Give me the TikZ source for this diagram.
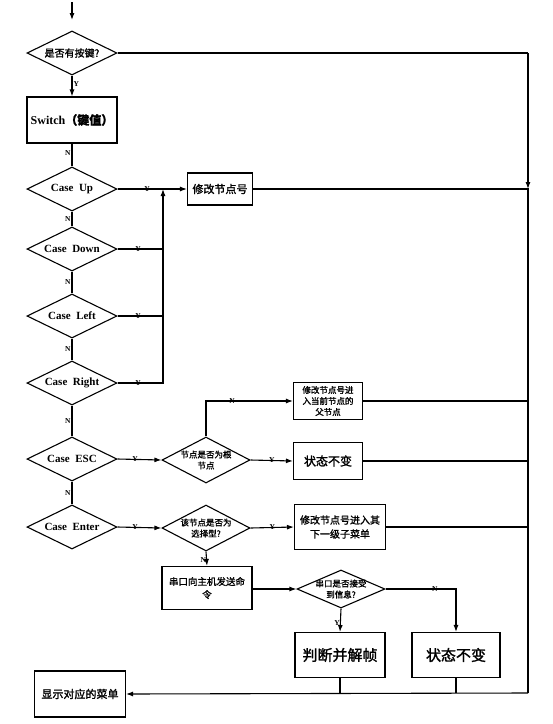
\documentclass[tikz,border=0pt]{standalone}
\usepackage{fontspec}
\setmainfont{Liberation Serif}
\newfontfamily\cjk[FakeBold=1.5]{Noto Sans CJK SC}
\usetikzlibrary{shapes.geometric,arrows.meta}
\begin{document}
\begin{tikzpicture}[x=1pt,y=-1pt,line width=1.1pt,
  dia/.style={draw,diamond,inner sep=0pt,minimum width=90pt,minimum height=44pt},
  box/.style={draw,rectangle,inner sep=0pt,align=center},
  txt/.style={inner sep=0pt,align=center,font=\bfseries\fontsize{11}{12}\selectfont},
  stxt/.style={inner sep=0pt,align=center,font=\cjk\fontsize{8.5}{11}\selectfont},
  lab/.style={inner sep=1pt,font=\fontsize{7.5}{8}\selectfont\bfseries},
  arr/.style={-{Latex[length=7pt,width=5pt]}}]
\useasboundingbox (0,0) rectangle (553,724);
% top
\coordinate (start) at (72,2);
\coordinate (startend) at (72,20);
\node[dia] (d0) at (72,53) {};
\node[txt,font=\cjk\fontsize{10}{12}\selectfont] at (d0) {是否有按键?};
\node[box,minimum width=90pt,minimum height=46pt,font=\bfseries\fontsize{12}{14}\selectfont] (sw) at (72,120) {Switch\cjk（键值）};
\node[dia] (cu) at (72,189) {};
\node[txt] at (cu) {Case\ \ Up};
\node[dia] (cd) at (72,249) {};
\node[txt] at (cd) {Case\ \ Down};
\node[dia] (cl) at (72,316) {};
\node[txt] at (cl) {Case\ \ Left};
\node[dia] (cr) at (72,383) {};
\node[txt] at (cr) {Case\ \ Right};
\node[dia] (ce) at (72,459) {};
\node[txt] at (ce) {Case\ \ ESC};
\node[dia] (cn) at (72,527) {};
\node[txt] at (cn) {Case\ \ Enter};
% modify box
\node[box,minimum width=65pt,minimum height=32pt,font=\cjk\fontsize{11}{12}\selectfont] (mod) at (220,189) {修改节点号};
\coordinate (col) at (163,189);
% ESC branch
\node[dia,minimum width=88pt,minimum height=46pt] (root) at (206,460) {};
\node[stxt] at (root) {节点是否为根\\节点};
\node[box,minimum width=69pt,minimum height=37pt,font=\cjk\fontsize{8.5}{11}\selectfont] (par) at (328,401) {修改节点号进\\入当前节点的\\父节点};
\node[box,minimum width=69pt,minimum height=37pt,font=\cjk\fontsize{12}{14}\selectfont] (keep1) at (328,461) {状态不变};
% Enter branch
\node[dia,minimum width=88pt,minimum height=46pt] (sel) at (206,528) {};
\node[stxt] at (sel) {该节点是否为\\选择型?};
\node[box,minimum width=91pt,minimum height=45pt,font=\cjk\fontsize{10}{14}\selectfont] (sub) at (340,527) {修改节点号进入其\\下一级子菜单};
\node[box,minimum width=90pt,minimum height=43pt,font=\cjk\fontsize{9.5}{13}\selectfont] (ser) at (207,588) {串口向主机发送命\\令};
\node[dia,minimum width=88pt,minimum height=38pt] (rcv) at (341,589) {};
\node[stxt] at (rcv) {串口是否接受\\到信息?};
\node[box,minimum width=90pt,minimum height=45pt,font=\cjk\fontsize{15}{16}\selectfont] (dec) at (340,655) {判断并解帧};
\node[box,minimum width=88pt,minimum height=45pt,font=\cjk\fontsize{15}{16}\selectfont] (keep2) at (456,655) {状态不变};
\node[box,minimum width=91pt,minimum height=46pt,font=\cjk\fontsize{11}{12}\selectfont] (show) at (80,694) {显示对应的菜单};
% right bus
\coordinate (rt) at (528,53);
\coordinate (rj) at (528,189);
\coordinate (rb) at (528,693);
% connectors
\draw[arr] (start) -- (startend);
\draw[arr] (d0.south) -- node[lab,right,pos=0.4]{Y} (sw.north);
\draw (sw.south) -- node[lab,left,pos=0.4]{N} (cu.north);
\draw (cu.south) -- node[lab,left]{N} (cd.north);
\draw (cd.south) -- node[lab,left]{N} (cl.north);
\draw (cl.south) -- node[lab,left]{N} (cr.north);
\draw (cr.south) -- node[lab,left]{N} (ce.north);
\draw (ce.south) -- node[lab,left]{N} (cn.north);
\draw (cu.east) -- node[lab,pos=0.65]{Y} (col) ;
\draw[arr] (col) -- (mod.west);
\draw (cd.east) -- node[lab,pos=0.45]{Y} (cd.east -| col);
\draw (cl.east) -- node[lab,pos=0.45]{Y} (cl.east -| col);
\draw[arr] (cr.east) -- node[lab,pos=0.45]{Y} (cr.east -| col) -- (col);
\draw[arr] (ce.east) -- node[lab,pos=0.4]{Y} (root.west);
\draw[arr] (cn.east) -- node[lab,pos=0.4]{Y} (sel.west);
\draw[arr] (root.north) |- node[lab,pos=0.65]{N} (par.west);
\draw[arr] (root.east) -- node[lab]{Y} (keep1.west);
\draw[arr] (sel.east) -- node[lab]{Y} (sub.west);
\draw[arr] (sel.south) -- node[lab,left=-1pt,pos=0.6]{N} (ser.north);
\draw[arr] (ser.east |- rcv.west) -- (rcv.west);
\draw[arr] (rcv.south) -- node[lab,left=-1pt,pos=0.6]{Y} (dec.north);
\draw[arr] (rcv.east) -| node[lab,pos=0.35]{N} (keep2.north);
\draw (d0.east) -- (rt);
\draw[arr] (rt) -- (rj);
\draw (mod.east) -- (rj) -- (rb);
\draw (par.east) -- (par.east -| rj);
\draw (keep1.east) -- (keep1.east -| rj);
\draw (sub.east) -- (sub.east -| rj);
\draw (dec.south) -- (dec.south |- rb);
\draw (keep2.south) -- (keep2.south |- rb);
\draw[arr] (rb) -- (show.east);
\end{tikzpicture}
\end{document}
